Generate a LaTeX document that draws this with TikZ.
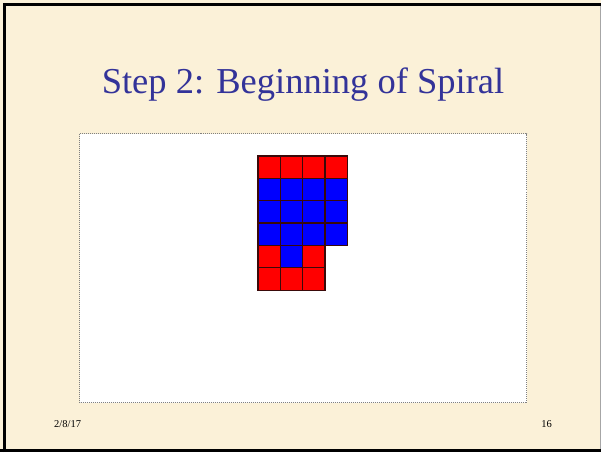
\documentclass[tikz,border=0pt]{standalone}
\usepackage{fontspec}
\setmainfont{Liberation Serif}
\usepackage{xcolor}
\usepackage{tikz}
\usetikzlibrary{positioning}
\definecolor{slidebg}{HTML}{FBF1D8}
\definecolor{titleblue}{HTML}{333399}
\definecolor{celledge}{HTML}{3A0A0A}
\tikzset{
  cell/.style={draw=celledge,line width=1.2pt},
  sheet/.style={fill=white,draw=gray,line width=0.7pt,
                dash pattern=on 1pt off 1pt},
  heading/.style={font=\fontsize{36.5}{40}\selectfont,text=titleblue,
                  inner sep=0pt,anchor=base},
  foot/.style={font=\fontsize{10.5}{12}\selectfont,inner sep=0pt},
}

\begin{document}
\begin{tikzpicture}[x=1pt,y=-1pt]
\useasboundingbox (0,0) rectangle (601,452);
% slide background and frame
\fill[slidebg] (0,0) rectangle (601,452);
\draw[line width=3pt] (4.5,452) -- (4.5,4.5) -- (601,4.5);
\draw[line width=3pt] (0,450.5) -- (601,450.5);
\draw[gray!70,line width=0.8pt] (600.2,6) -- (600.2,449);
% title
\node[heading] (title) at (303,93) {Step 2: Beginning of Spiral};
% picture area
\draw[sheet] (79.5,133.5) rectangle (526.5,402.5);
% spiral cells: row/column/colour (fill first, edges after)
\def\celllist{0/0/red,0/1/red,0/2/red,0/3/red,
              1/0/blue,1/1/blue,1/2/blue,1/3/blue,
              2/0/blue,2/1/blue,2/2/blue,2/3/blue,
              3/0/blue,3/1/blue,3/2/blue,3/3/blue,
              4/0/red,4/1/blue,4/2/red,
              5/0/red,5/1/red,5/2/red}
\foreach \r/\c/\col in \celllist{
  \fill[\col] ({258+\c*22.35},{156+\r*22.35}) rectangle +(22.35,22.35);
}
\foreach \r/\c/\col in \celllist{
  \draw[cell] ({258+\c*22.35},{156+\r*22.35}) rectangle +(22.35,22.35);
}
% footer
\node[foot,anchor=base west] (date) at (54,427) {2/8/17};
\node[foot,anchor=base east] (page) at (552,427) {16};
\end{tikzpicture}
\end{document}
